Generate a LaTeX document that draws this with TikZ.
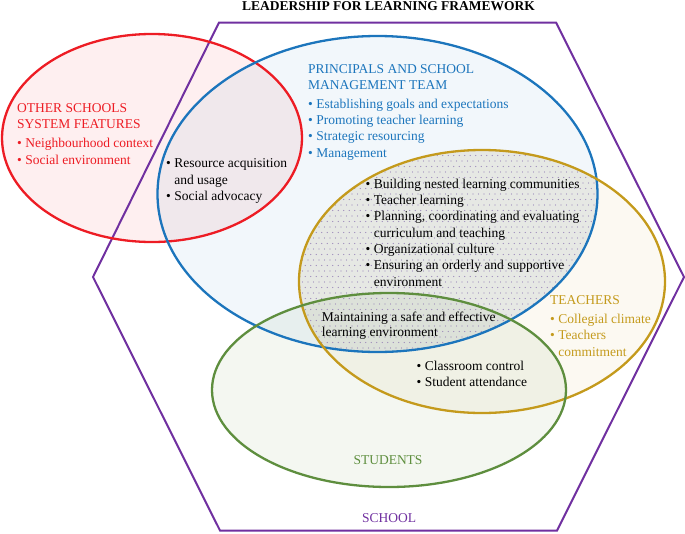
\documentclass[tikz,border=0pt]{standalone}
\usepackage{fontspec}
\setmainfont{Liberation Serif}
\definecolor{cred}{HTML}{ED1C24}
\definecolor{cblue}{HTML}{1C75BC}
\definecolor{cgold}{HTML}{C49A1C}
\definecolor{cgreen}{HTML}{5E8E3E}
\definecolor{cpurple}{HTML}{7030A0}
\definecolor{cdot}{HTML}{9A86B8}
\begin{document}
\begin{tikzpicture}[x=1pt,y=-1pt,
  txt/.style={inner sep=0pt, anchor=base west, align=left, font=\fontsize{13.5}{16.3}\selectfont},
  ctr/.style={inner sep=0pt, anchor=base, font=\fontsize{13.5}{16.3}\selectfont},
  ring/.style={line width=2.3pt}]
\useasboundingbox (0,0) rectangle (685,533);
% fills
\fill[cred, fill opacity=0.07] (152,138) ellipse [x radius=150pt, y radius=104pt];
\fill[cblue, fill opacity=0.06] (377.5,194) ellipse [x radius=220pt, y radius=158pt];
\fill[cgold, fill opacity=0.06] (482,281.5) ellipse [x radius=183pt, y radius=131.5pt];
\fill[cgreen, fill opacity=0.07] (389,390) ellipse [x radius=177pt, y radius=97pt];
% dotted intersection
\begin{scope}
  \clip (377.5,194) ellipse [x radius=220pt, y radius=158pt];
  \clip (482,281.5) ellipse [x radius=183pt, y radius=131.5pt];
  \fill[black, fill opacity=0.04] (290,140) rectangle (610,360);
  \foreach \j in {0,...,38} {
    \foreach \i in {0,...,56} {
      \fill[cdot] ({297+5.5*\i+mod(\j,2)*2.75},{150+5.5*\j}) circle[radius=0.55pt];
    }
  }
\end{scope}
% outlines
\draw[cpurple, line width=2pt, line join=miter] (219,22.5) -- (556,22.5) -- (684,277) -- (557,530.5) -- (220,530.5) -- (93,277) -- cycle;
\draw[ring, cred] (152,138) ellipse [x radius=150pt, y radius=104pt];
\draw[ring, cblue] (377.5,194) ellipse [x radius=220pt, y radius=158pt];
\draw[ring, cgold] (482,281.5) ellipse [x radius=183pt, y radius=131.5pt];
\draw[ring, cgreen] (389,390) ellipse [x radius=177pt, y radius=97pt];
% texts (base anchor = baseline of the last line)
\node[ctr, font=\fontsize{13.5}{16.3}\selectfont\bfseries] (title) at (388.5,10.5) {LEADERSHIP FOR LEARNING FRAMEWORK};
\node[txt, text=cred] (other) at (17,164) {OTHER SCHOOLS\\SYSTEM FEATURES\\[2.7pt]• Neighbourhood context\\• Social environment};
\node[txt] (resource) at (166,200.5) {• Resource acquisition\\\hphantom{•\ }and usage\\• Social advocacy};
\node[txt, text=cblue] (principals) at (308,157) {PRINCIPALS AND SCHOOL\\[-1pt]MANAGEMENT TEAM\\[2.7pt]• Establishing goals and expectations\\• Promoting teacher learning\\• Strategic resourcing\\• Management};
\node[txt] (nested) at (365.5,286) {• Building nested learning communities\\• Teacher learning\\• Planning, coordinating and evaluating\\\hphantom{•\ }curriculum and teaching\\• Organizational culture\\• Ensuring an orderly and supportive\\\hphantom{•\ }environment};
\node[txt] (maintain) at (321.7,336.7) {Maintaining a safe and effective\\[-1pt]learning environment};
\node[txt] (classroom) at (416.5,386.7) {• Classroom control\\• Student attendance};
\node[txt, text=cgold] (teachers) at (550,356) {TEACHERS\\[2.7pt]• Collegial climate\\• Teachers\\\hphantom{•\ }commitment};
\node[ctr, text=cgreen] (students) at (388,464) {STUDENTS};
\node[ctr, text=cpurple] (school) at (389,522.7) {SCHOOL};
\end{tikzpicture}
\end{document}
